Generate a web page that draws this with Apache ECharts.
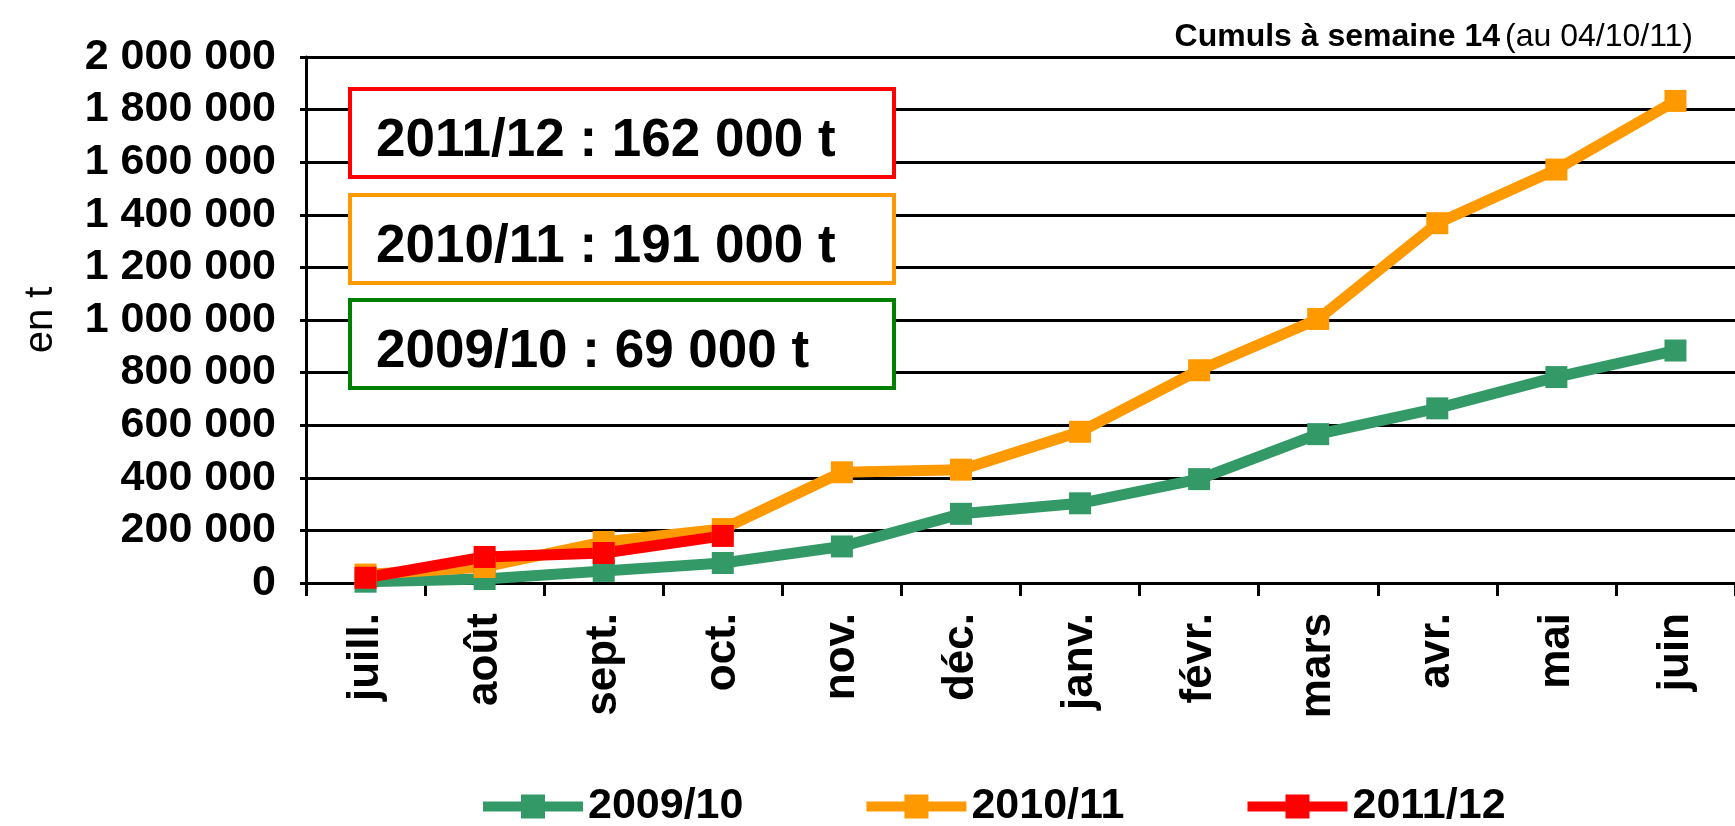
<!DOCTYPE html>
<html>
<head>
<meta charset="utf-8">
<script src="https://cdn.jsdelivr.net/npm/echarts@6/dist/echarts.min.js"></script>
<style>
  html, body { margin: 0; padding: 0; background: #fff; }
  #chart { width: 1735px; height: 826px; }
</style>
</head>
<body>
<div id="chart"></div>
<script>
  var months = ['juill.', 'août', 'sept.', 'oct.', 'nov.', 'déc.', 'janv.', 'févr.', 'mars', 'avr.', 'mai', 'juin'];
  var seriesNames = ['2009/10', '2010/11', '2011/12'];
  var seriesColors = ['#339966', '#FF9900', '#FF0000'];
  var values0910 = [5000, 15000, 46000, 76000, 139000, 263000, 303000, 395000, 566000, 664000, 783000, 884000];
  var values1011 = [32000, 61000, 156000, 205000, 421000, 431000, 575000, 809000, 1004000, 1368000, 1572000, 1833000];
  var values1112 = [20000, 99000, 114000, 179000];
  // encadrés "cumuls à semaine 14"
  var boxTexts = ['2011/12 : 162 000 t', '2010/11 : 191 000 t', '2009/10 : 69 000 t'];
  var boxColors = ['#FF0000', '#FF9900', '#008000'];

  var font = "'Liberation Sans', Arial, sans-serif";

  function spaced(v) {
    return String(v).replace(/\B(?=(\d{3})+(?!\d))/g, ' ');
  }

  var chart = echarts.init(document.getElementById('chart'));

  var boxTops = [89, 195, 300];
  var boxes = [];
  for (var i = 0; i < boxTexts.length; i++) {
    boxes.push({
      type: 'rect',
      shape: { x: 350, y: boxTops[i], width: 544, height: 88 },
      style: { fill: '#fff', stroke: boxColors[i], lineWidth: 4 },
      z: 10
    });
    boxes.push({
      type: 'text',
      x: 376,
      y: boxTops[i] + 52,
      style: {
        text: boxTexts[i],
        font: 'bold 53px ' + font,
        fill: '#000',
        verticalAlign: 'middle'
      },
      z: 11
    });
  }

  var data = [values0910, values1011, values1112];
  var series = [];
  for (var k = 0; k < seriesNames.length; k++) {
    series.push({
      name: seriesNames[k],
      type: 'line',
      data: data[k],
      symbol: 'rect',
      symbolSize: 22,
      color: seriesColors[k],
      lineStyle: { width: 11, color: seriesColors[k] },
      itemStyle: { color: seriesColors[k] },
      animation: false
    });
  }

  chart.setOption({
    animation: false,
    title: {
      text: '{b|Cumuls à semaine 14} {n|(au 04/10/11)}',
      right: 37,
      top: 16,
      textStyle: {
        rich: {
          b: { fontFamily: font, fontWeight: 'bold', fontSize: 32, color: '#000' },
          n: { fontFamily: font, fontWeight: 'normal', fontSize: 32, color: '#000' }
        }
      }
    },
    legend: {
      data: seriesNames,
      left: 473,
      top: 780,
      itemWidth: 100,
      itemHeight: 30,
      itemGap: 118,
      lineStyle: { width: 10 },
      textStyle: { fontFamily: font, fontWeight: 'bold', fontSize: 43, color: '#000' }
    },
    grid: { left: 306, top: 57, width: 1441, height: 526 },
    xAxis: {
      type: 'category',
      data: months,
      boundaryGap: true,
      axisLine: { lineStyle: { color: '#000', width: 3 } },
      axisTick: { show: true, length: 13, lineStyle: { color: '#000', width: 3 } },
      axisLabel: {
        rotate: 90,
        margin: 30,
        fontFamily: font,
        fontWeight: 'bold',
        fontSize: 44,
        color: '#000'
      }
    },
    yAxis: {
      type: 'value',
      min: 0,
      max: 2000000,
      interval: 200000,
      name: 'en t',
      nameLocation: 'middle',
      nameGap: 245,
      nameRotate: 90,
      nameTextStyle: { fontFamily: font, fontSize: 40, color: '#000' },
      axisLine: { show: true, lineStyle: { color: '#000', width: 3 } },
      axisTick: { show: true, length: 6, lineStyle: { color: '#000', width: 3 } },
      splitLine: { lineStyle: { color: '#000', width: 3 } },
      axisLabel: {
        margin: 30,
        fontFamily: font,
        fontWeight: 'bold',
        fontSize: 43,
        color: '#000',
        formatter: spaced
      }
    },
    graphic: boxes,
    series: series
  });
</script>
</body>
</html>
